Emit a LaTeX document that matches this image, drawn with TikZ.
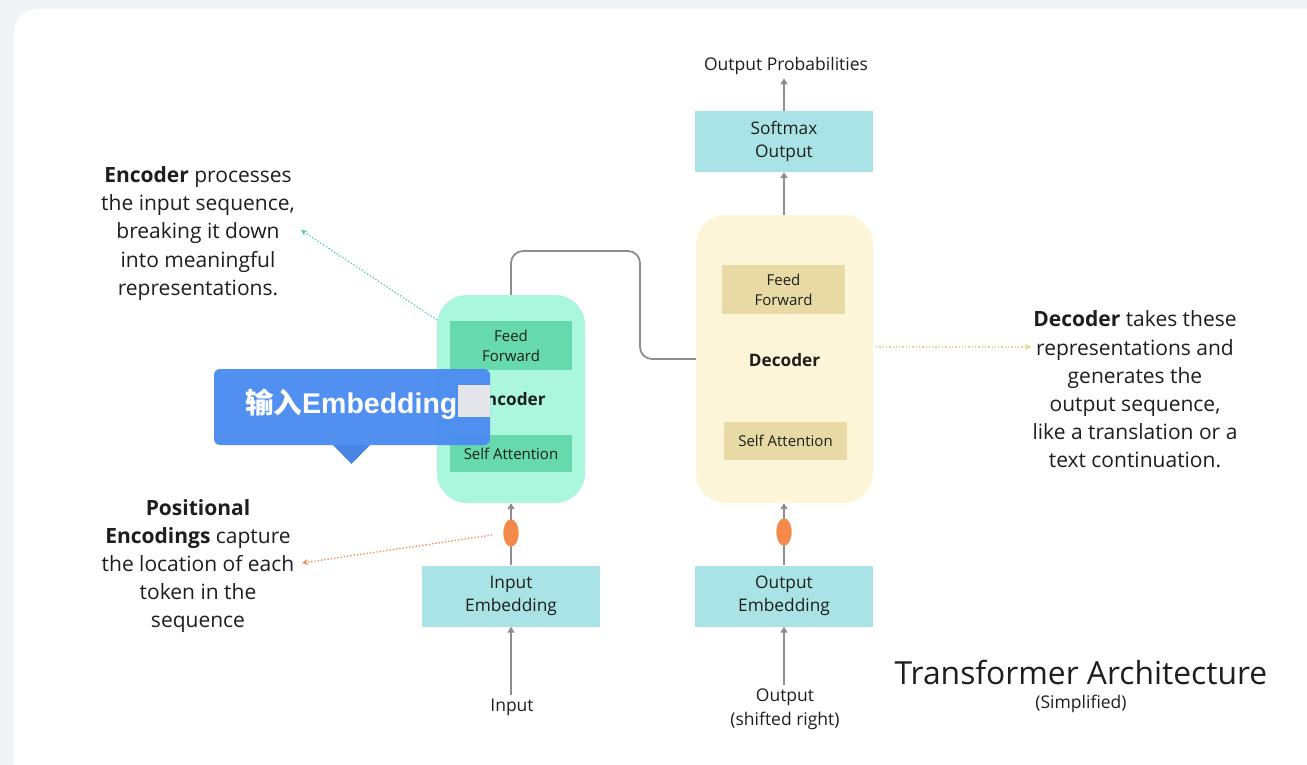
\documentclass[tikz,border=0pt]{standalone}
\usepackage{fontspec}
\setmainfont{Open Sans}
\newfontfamily\cjk{Noto Sans CJK SC}
\newfontfamily\latsans{Liberation Sans}
\usetikzlibrary{arrows.meta,calc,shapes.geometric}

\definecolor{pagebg}{HTML}{F1F3F6}
\definecolor{encbg}{HTML}{AAF7DE}
\definecolor{encblk}{HTML}{66D9AE}
\definecolor{decbg}{HTML}{FDF5D8}
\definecolor{decblk}{HTML}{E7DAA4}
\definecolor{embbg}{HTML}{A9E3E5}
\definecolor{posorange}{HTML}{F4894A}
\definecolor{linegrey}{HTML}{8E8E8E}
\definecolor{tipblue}{HTML}{4C8CF0}
\definecolor{tipgrey}{HTML}{E4E6EA}
\definecolor{dotteal}{HTML}{5CCBAA}
\definecolor{dotyellow}{HTML}{E6D38C}
\definecolor{txt}{HTML}{1E1E1E}

\tikzset{
  blk/.style={rectangle, inner sep=0pt, align=center, text=txt,
    font=\fontsize{15}{20}\selectfont},
  embbox/.style={blk, fill=embbg, minimum width=178, minimum height=61,
    font=\fontsize{17.3}{23.5}\selectfont},
  stack/.style={rectangle, rounded corners=30, inner sep=0pt},
  flow/.style={draw=linegrey, line width=1.8pt,
    -{Triangle[length=6pt,width=7pt]}},
  link/.style={draw=linegrey, line width=1.8pt, rounded corners=12},
  note/.style={align=center, text=txt, font=\fontsize{21}{28.2}\selectfont},
  lbl/.style={align=center, text=txt, font=\fontsize{17.5}{24}\selectfont},
  pointer/.style={line width=1.3pt, dotted, -{Stealth[length=6pt,width=6pt]}},
  posdot/.style={ellipse, fill=posorange, minimum width=15, minimum height=27, inner sep=0pt},
}

\begin{document}
\begin{tikzpicture}[x=1pt, y=-1pt]
  % page and card
  \fill[pagebg] (0,0) rectangle (1307,765);
  \useasboundingbox (0,0) rectangle (1307,765);
  \fill[white, rounded corners=22] (14,9) rectangle (1340,800);

  % encoder stack
  \node[stack, fill=encbg, minimum width=148, minimum height=208] (enc) at (511,399) {};
  \node[blk, fill=encblk, minimum width=122, minimum height=49] (encff) at (511,345.5) {Feed\\Forward};
  \node[blk, fill=encblk, minimum width=122, minimum height=37] (encsa) at (511,453.5) {Self Attention};
  \node[blk, font=\bfseries\fontsize{17.2}{22}\selectfont] (enclbl) at (511,399) {Encoder};

  % decoder stack
  \node[stack, fill=decbg, minimum width=177, minimum height=288] (dec) at (784.5,359) {};
  \node[blk, fill=decblk, minimum width=123, minimum height=49] (decff) at (783.5,289.5) {Feed\\Forward};
  \node[blk, fill=decblk, minimum width=123, minimum height=38] (decsa) at (785.5,441) {Self Attention};
  \node[blk, font=\bfseries\fontsize{17.2}{22}\selectfont] (declbl) at (784.5,360) {Decoder};

  % softmax and embeddings
  \node[embbox] (soft) at (784,141.5) {Softmax\\Output};
  \node[embbox] (inemb) at (511,596) {Input\\Embedding};
  \node[embbox] (outemb) at (784,596) {Output\\Embedding};

  % positional encoding markers
  \node[posdot] (inpos) at (511,533) {};
  \node[posdot] (outpos) at (784,532) {};

  % text labels
  \node[lbl] (outprob) at (786,66) {Output Probabilities};
  \node[lbl] (inlbl) at (512,707) {Input};
  \node[lbl] (outlbl) at (785,709) {Output\\(shifted right)};

  % data flow
  \draw[flow] (inemb.south |- inlbl.north) -- (inemb.south);
  \draw[flow] (outemb.south |- outlbl.north) -- (outemb.south);
  \draw[flow] (inemb.north) -- (enc.south);
  \draw[flow] (outemb.north) -- (outemb.north |- dec.south);
  \draw[flow] (soft.south |- dec.north) -- (soft.south);
  \draw[flow] (soft.north) -- (soft.north |- outprob.south);
  \node[posdot] at (inpos) {};
  \node[posdot] at (outpos) {};

  % encoder to decoder link
  \coordinate (bend) at (640,251);
  \draw[link] (enc.north) |- (bend) |- (dec.west);

  % annotations
  \node[note] (encnote) at (198,233.5) {\textbf{Encoder} processes\\the input sequence,\\breaking it down\\into meaningful\\representations.};
  \node[note] (posnote) at (198,566) {\textbf{Positional}\\\textbf{Encodings} capture\\the location of each\\token in the\\sequence};
  \node[note] (decnote) at (1135,389.5) {\textbf{Decoder} takes these\\representations and\\generates the\\output sequence,\\like a translation or a\\text continuation.};

  \coordinate (encfrom) at (437,320);
  \coordinate (encto) at (301,230);
  \draw[pointer, dotteal] (encfrom) -- (encto);
  \coordinate (posfrom) at (492,535);
  \coordinate (posto) at (302,563);
  \draw[pointer, posorange] (posfrom) -- (posto);
  \coordinate (decfrom) at (876,347);
  \coordinate (decto) at (1031,347);
  \draw[pointer, dotyellow] (decfrom) -- (decto);

  % title
  \node[text=txt, font=\fontsize{31.8}{36}\selectfont] (title) at (1081,672) {Transformer Architecture};
  \node[text=txt, font=\fontsize{17.5}{20}\selectfont] (subtitle) at (1081,704) {(Simplified)};

  % tooltip overlay
  \fill[tipblue, opacity=0.97, rounded corners=6] (214,369) rectangle (490,445);
  \fill[tipblue!95!black] (333,445) -- (370,445) -- (351.5,464) -- cycle;
  \node[anchor=west, inner sep=0pt, text=white, font=\fontsize{28.5}{30}\selectfont] (tiptext) at (245,404)
    {{\cjk\bfseries 输入}{\latsans\bfseries Embedding}};
  \fill[tipgrey] (458,385) rectangle (490,417);
\end{tikzpicture}
\end{document}
